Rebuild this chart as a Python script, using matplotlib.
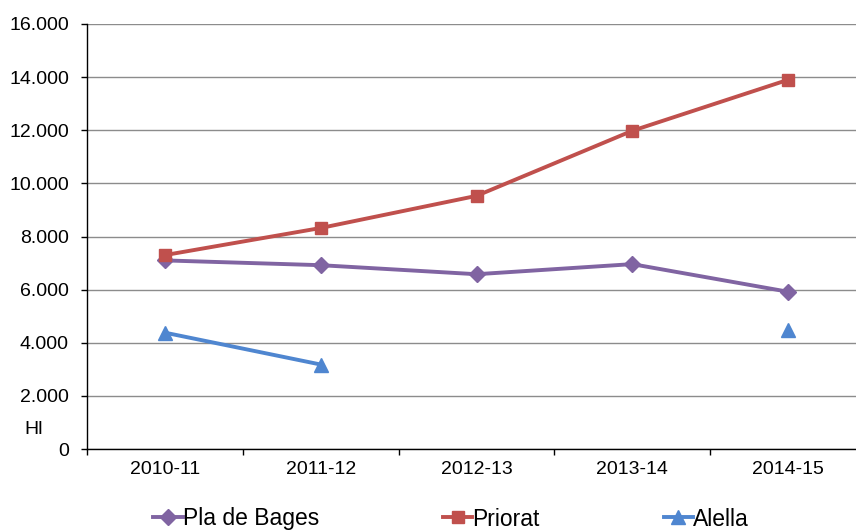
import numpy as np
import matplotlib.pyplot as plt
from matplotlib.ticker import FuncFormatter, FixedLocator

plt.rcParams['font.family'] = ['Liberation Sans', 'DejaVu Sans']

campaigns = ['2010-11', '2011-12', '2012-13', '2013-14', '2014-15']
pla_de_bages = [7100, 6920, 6580, 6960, 5920]
priorat = [7300, 8320, 9530, 11980, 13900]
alella = [4380, 3180, np.nan, np.nan, 4480]
y_ticks = list(range(0, 16001, 2000))


def thousands(v, pos):
    return f"{int(v):,}".replace(',', '.')


fig = plt.figure(figsize=(8.56, 5.32), dpi=100)
ax = fig.add_axes([87 / 856, 83 / 532, 779 / 856, 425 / 532])

x = np.arange(len(campaigns))
ax.plot(x, pla_de_bages, color='#8064A2', lw=2.8, marker='D', ms=8, label='Pla de Bages')
ax.plot(x, priorat, color='#C0504D', lw=2.8, marker='s', ms=9, label='Priorat')
ax.plot(x, alella, color='#4F86D0', lw=2.8, marker='^', ms=10, label='Alella')

ax.set_xlim(-0.5, 4.5)
ax.set_ylim(0, 16000)
ax.set_yticks(y_ticks)
ax.yaxis.set_major_formatter(FuncFormatter(thousands))
ax.grid(axis='y', color='#8c8c8c', lw=1)
ax.set_axisbelow(True)

# category labels centred, tick marks at the boundaries
ax.xaxis.set_major_locator(FixedLocator(np.arange(-0.5, 5, 1)))
ax.xaxis.set_minor_locator(FixedLocator(x))
ax.set_xticklabels([])
ax.set_xticklabels(campaigns, minor=True)
ax.tick_params(axis='x', which='major', length=4, width=1, direction='out')
ax.tick_params(axis='x', which='minor', length=0, pad=9, labelsize=14)
ax.tick_params(axis='y', length=4.5, width=1, pad=8.5, labelsize=14)

for side in ['top', 'right']:
    ax.spines[side].set_visible(False)
for side in ['left', 'bottom']:
    ax.spines[side].set_color('black')
    ax.spines[side].set_linewidth(1)

ax.text(-0.081, 0.045, 'Hl', transform=ax.transAxes, fontsize=14, ha='left', va='center')

fig.legend(loc='center', bbox_to_anchor=(451 / 856, 1 - 519 / 532), ncol=3, frameon=False,
           fontsize=16.5, handlelength=1.3, handletextpad=0.0, columnspacing=5.4,
           borderaxespad=0)

fig.savefig('out.png', dpi=100)
